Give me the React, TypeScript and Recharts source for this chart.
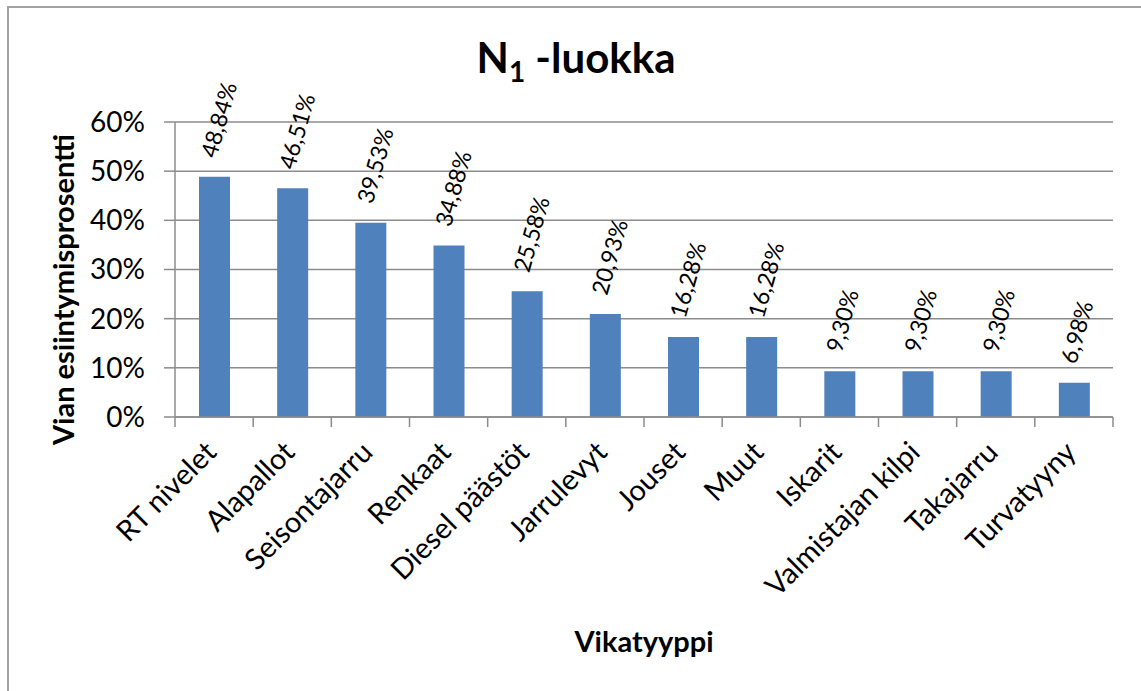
import React from 'react';
import { BarChart, Bar, XAxis, YAxis, CartesianGrid, LabelList, Label } from 'recharts';

const categories = [
  'RT nivelet',
  'Alapallot',
  'Seisontajarru',
  'Renkaat',
  'Diesel päästöt',
  'Jarrulevyt',
  'Jouset',
  'Muut',
  'Iskarit',
  'Valmistajan kilpi',
  'Takajarru',
  'Turvatyyny',
];
const values = [48.84, 46.51, 39.53, 34.88, 25.58, 20.93, 16.28, 16.28, 9.3, 9.3, 9.3, 6.98];
const yTicks = [0, 10, 20, 30, 40, 50, 60];

const data = categories.map((name, i) => ({ name, value: values[i] }));

const FONT = 'Lato, "Open Sans", sans-serif';
const GRID = '#8c8c8c';
const BAR = '#4F81BD';

const fmtPct = (v: number) => Number(v).toFixed(2).replace('.', ',') + '%';

function CatTick(props: any) {
  const { x, y, payload, index, visibleTicksCount } = props;
  const half = Number(payload?.offset) || 0;
  const px = x + 4;
  const py = y + 37;
  const isLast = index === (visibleTicksCount ?? categories.length) - 1;
  return (
    <g>
      <line x1={x - half} y1={y} x2={x - half} y2={y + 10} stroke={GRID} strokeWidth={1.5} />
      {isLast && (
        <line x1={x + half} y1={y} x2={x + half} y2={y + 10} stroke={GRID} strokeWidth={1.5} />
      )}
      <text
        x={px}
        y={py}
        transform={`rotate(-45, ${px}, ${py})`}
        textAnchor="end"
        fontSize={29}
        fontFamily={FONT}
        fill="#000"
      >
        {payload.value}
      </text>
    </g>
  );
}

function DataLabel(props: any) {
  const { x, y, width, value } = props;
  const cx = Number(x) + Number(width) / 2;
  const px = cx - 6;
  const py = Number(y) - 20;
  return (
    <text
      x={px}
      y={py}
      dy="0.35em"
      transform={`rotate(-74, ${px}, ${py})`}
      textAnchor="start"
      fontSize={23}
      fontFamily={FONT}
      fill="#000"
    >
      {fmtPct(value)}
    </text>
  );
}

function YTitle(props: any) {
  const vb = props.viewBox || { x: 0, y: 0, width: 0, height: 0 };
  const px = vb.x + 62;
  const py = vb.y + vb.height / 2 + 20;
  return (
    <text
      x={px}
      y={py}
      transform={`rotate(-90, ${px}, ${py})`}
      textAnchor="middle"
      dominantBaseline="central"
      fontSize={29}
      fontWeight="bold"
      fontFamily={FONT}
      fill="#000"
    >
      Vian esiintymisprosentti
    </text>
  );
}

function XTitle(props: any) {
  const vb = props.viewBox || { x: 0, y: 0, width: 0, height: 0 };
  return (
    <text
      x={vb.x + vb.width / 2}
      y={vb.y + 235}
      textAnchor="middle"
      fontSize={29}
      fontWeight="bold"
      fontFamily={FONT}
      fill="#000"
    >
      Vikatyyppi
    </text>
  );
}

export default function App() {
  return (
    <div
      style={{
        position: 'absolute',
        left: 0,
        top: 0,
        width: 1141,
        height: 691,
        overflow: 'hidden',
        background: '#fff',
        fontFamily: FONT,
      }}
    >
      <div
        style={{
          position: 'absolute',
          left: 7,
          top: 6,
          width: 1300,
          height: 900,
          borderTop: '2px solid #a3a3a3',
          borderLeft: '2px solid #a3a3a3',
        }}
      />
      <svg
        width={1141}
        height={110}
        style={{ position: 'absolute', left: 0, top: 0 }}
      >
        <text
          x={576}
          y={73}
          textAnchor="middle"
          fontSize={42}
          fontWeight="bold"
          fontFamily={FONT}
          fill="#000"
        >
          N
          <tspan fontSize={28} dy={9}>1</tspan>
          <tspan dy={-9}> -luokka</tspan>
        </text>
      </svg>
      <div style={{ position: 'absolute', left: 0, top: 0 }}>
        <BarChart
          width={1141}
          height={691}
          data={data}
          margin={{ top: 122, right: 28, left: 0, bottom: 0 }}
        >
          <CartesianGrid vertical={false} stroke={GRID} strokeWidth={1.5} />
          <XAxis
            dataKey="name"
            type="category"
            height={274}
            interval={0}
            axisLine={{ stroke: GRID, strokeWidth: 1.5 }}
            tickLine={false}
            tickSize={0}
            tickMargin={0}
            tick={<CatTick />}
          >
            <Label content={<XTitle />} />
          </XAxis>
          <YAxis
            width={175}
            domain={[0, 60]}
            ticks={yTicks}
            tickFormatter={(v: number) => `${v}%`}
            tickSize={11}
            tickMargin={19}
            axisLine={{ stroke: GRID, strokeWidth: 1.5 }}
            tickLine={{ stroke: GRID, strokeWidth: 1.5 }}
            tick={{ fill: '#000', fontSize: 28, fontFamily: FONT }}
          >
            <Label content={<YTitle />} />
          </YAxis>
          <Bar
            dataKey="value"
            fill={BAR}
            barSize={31}
            isAnimationActive={false}
          >
            <LabelList dataKey="value" content={<DataLabel />} />
          </Bar>
        </BarChart>
      </div>
    </div>
  );
}
